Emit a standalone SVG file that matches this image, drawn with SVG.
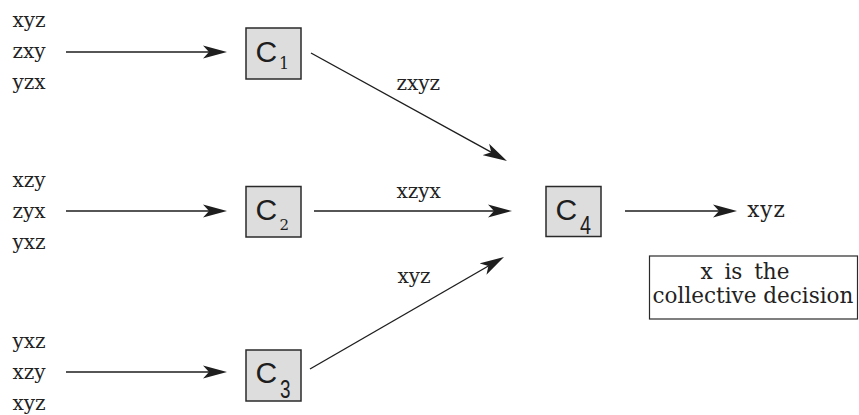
<svg xmlns="http://www.w3.org/2000/svg" width="859" height="415" viewBox="0 0 859 415">
  <style>
    .lbl { font-family: "DejaVu Serif", "Liberation Serif", serif; font-size: 20px; fill: #222; }
    .big { font-size: 21.5px; }
    .box { fill: #dddddd; stroke: #2a2a2a; stroke-width: 1.5; }
    .cap { font-family: "Liberation Sans", Arial, sans-serif; font-size: 30px; fill: #1e1e1e; }
    .sub-os { font-family: "DejaVu Serif", "Liberation Serif", serif; fill: #1e1e1e; }
    .sub { font-family: "Liberation Sans", Arial, sans-serif; font-size: 25px; fill: #1e1e1e; }
    .edge { fill: none; stroke: #1e1e1e; stroke-width: 1.4; }
    .note { fill: #ffffff; stroke: #2a2a2a; stroke-width: 1.2; }
  </style>
  <defs>
    <marker id="arrow" markerUnits="userSpaceOnUse" viewBox="0 -7 24 14" markerWidth="24" markerHeight="14" refX="12" refY="0" orient="auto">
      <path d="M24,0 L0,-6.5 L6,0 L0,6.5 Z" fill="#1e1e1e"/>
    </marker>
  </defs>

  <rect width="859" height="415" fill="#ffffff"/>

  <!-- input preference profiles -->
  <g id="profile-1">
    <text class="lbl" x="12.5" y="27">xyz</text>
    <text class="lbl" x="12.5" y="58">zxy</text>
    <text class="lbl" x="12.5" y="89">yzx</text>
  </g>
  <g id="profile-2">
    <text class="lbl" x="12.5" y="187">xzy</text>
    <text class="lbl" x="12.5" y="218">zyx</text>
    <text class="lbl" x="12.5" y="249">yxz</text>
  </g>
  <g id="profile-3">
    <text class="lbl" x="12.5" y="348">yxz</text>
    <text class="lbl" x="12.5" y="379">xzy</text>
    <text class="lbl" x="12.5" y="410">xyz</text>
  </g>

  <!-- committees -->
  <g id="c1">
    <rect class="box" x="246" y="28" width="55" height="51"/>
    <text class="cap" x="255.5" y="61.5">C</text>
    <text class="sub-os" x="279" y="69" font-size="16">1</text>
  </g>
  <g id="c2">
    <rect class="box" x="246" y="186.5" width="55" height="50.5"/>
    <text class="cap" x="255.5" y="220">C</text>
    <text class="sub-os" x="279.5" y="230" font-size="15">2</text>
  </g>
  <g id="c3">
    <rect class="box" x="246" y="350" width="55" height="51"/>
    <text class="cap" x="255.5" y="383">C</text>
    <text class="sub" x="280" y="397.5" textLength="10.5" lengthAdjust="spacingAndGlyphs">3</text>
  </g>
  <g id="c4">
    <rect class="box" x="546" y="186.5" width="55" height="50"/>
    <text class="cap" x="555.5" y="220">C</text>
    <text class="sub" x="580" y="234" textLength="11" lengthAdjust="spacingAndGlyphs">4</text>
  </g>

  <!-- result -->
  <g id="result">
    <text class="lbl big" x="766.5" y="217" text-anchor="middle" letter-spacing="1">xyz</text>
  </g>
  <g id="decision-note">
    <rect class="note" x="649.5" y="256" width="208" height="63"/>
    <text class="lbl big" x="745" y="278.5" text-anchor="middle" word-spacing="5">x is the</text>
    <text class="lbl big" x="753" y="303" text-anchor="middle">collective decision</text>
  </g>

  <!-- connectors -->
  <g id="connectors">
    <path class="edge" d="M66,52 H215" marker-end="url(#arrow)"/>
    <path class="edge" d="M66,211 H215" marker-end="url(#arrow)"/>
    <path class="edge" d="M66,372 H215" marker-end="url(#arrow)"/>
    <path class="edge" d="M311,53 L496.5,155.2" marker-end="url(#arrow)"/>
    <path class="edge" d="M314,211 H500" marker-end="url(#arrow)"/>
    <path class="edge" d="M310,369 L493.6,263" marker-end="url(#arrow)"/>
    <path class="edge" d="M625,211 H725" marker-end="url(#arrow)"/>
    <text class="lbl" x="396.5" y="90">zxyz</text>
    <text class="lbl" x="396.5" y="198">xzyx</text>
    <text class="lbl" x="397.5" y="283">xyz</text>
  </g>
</svg>
